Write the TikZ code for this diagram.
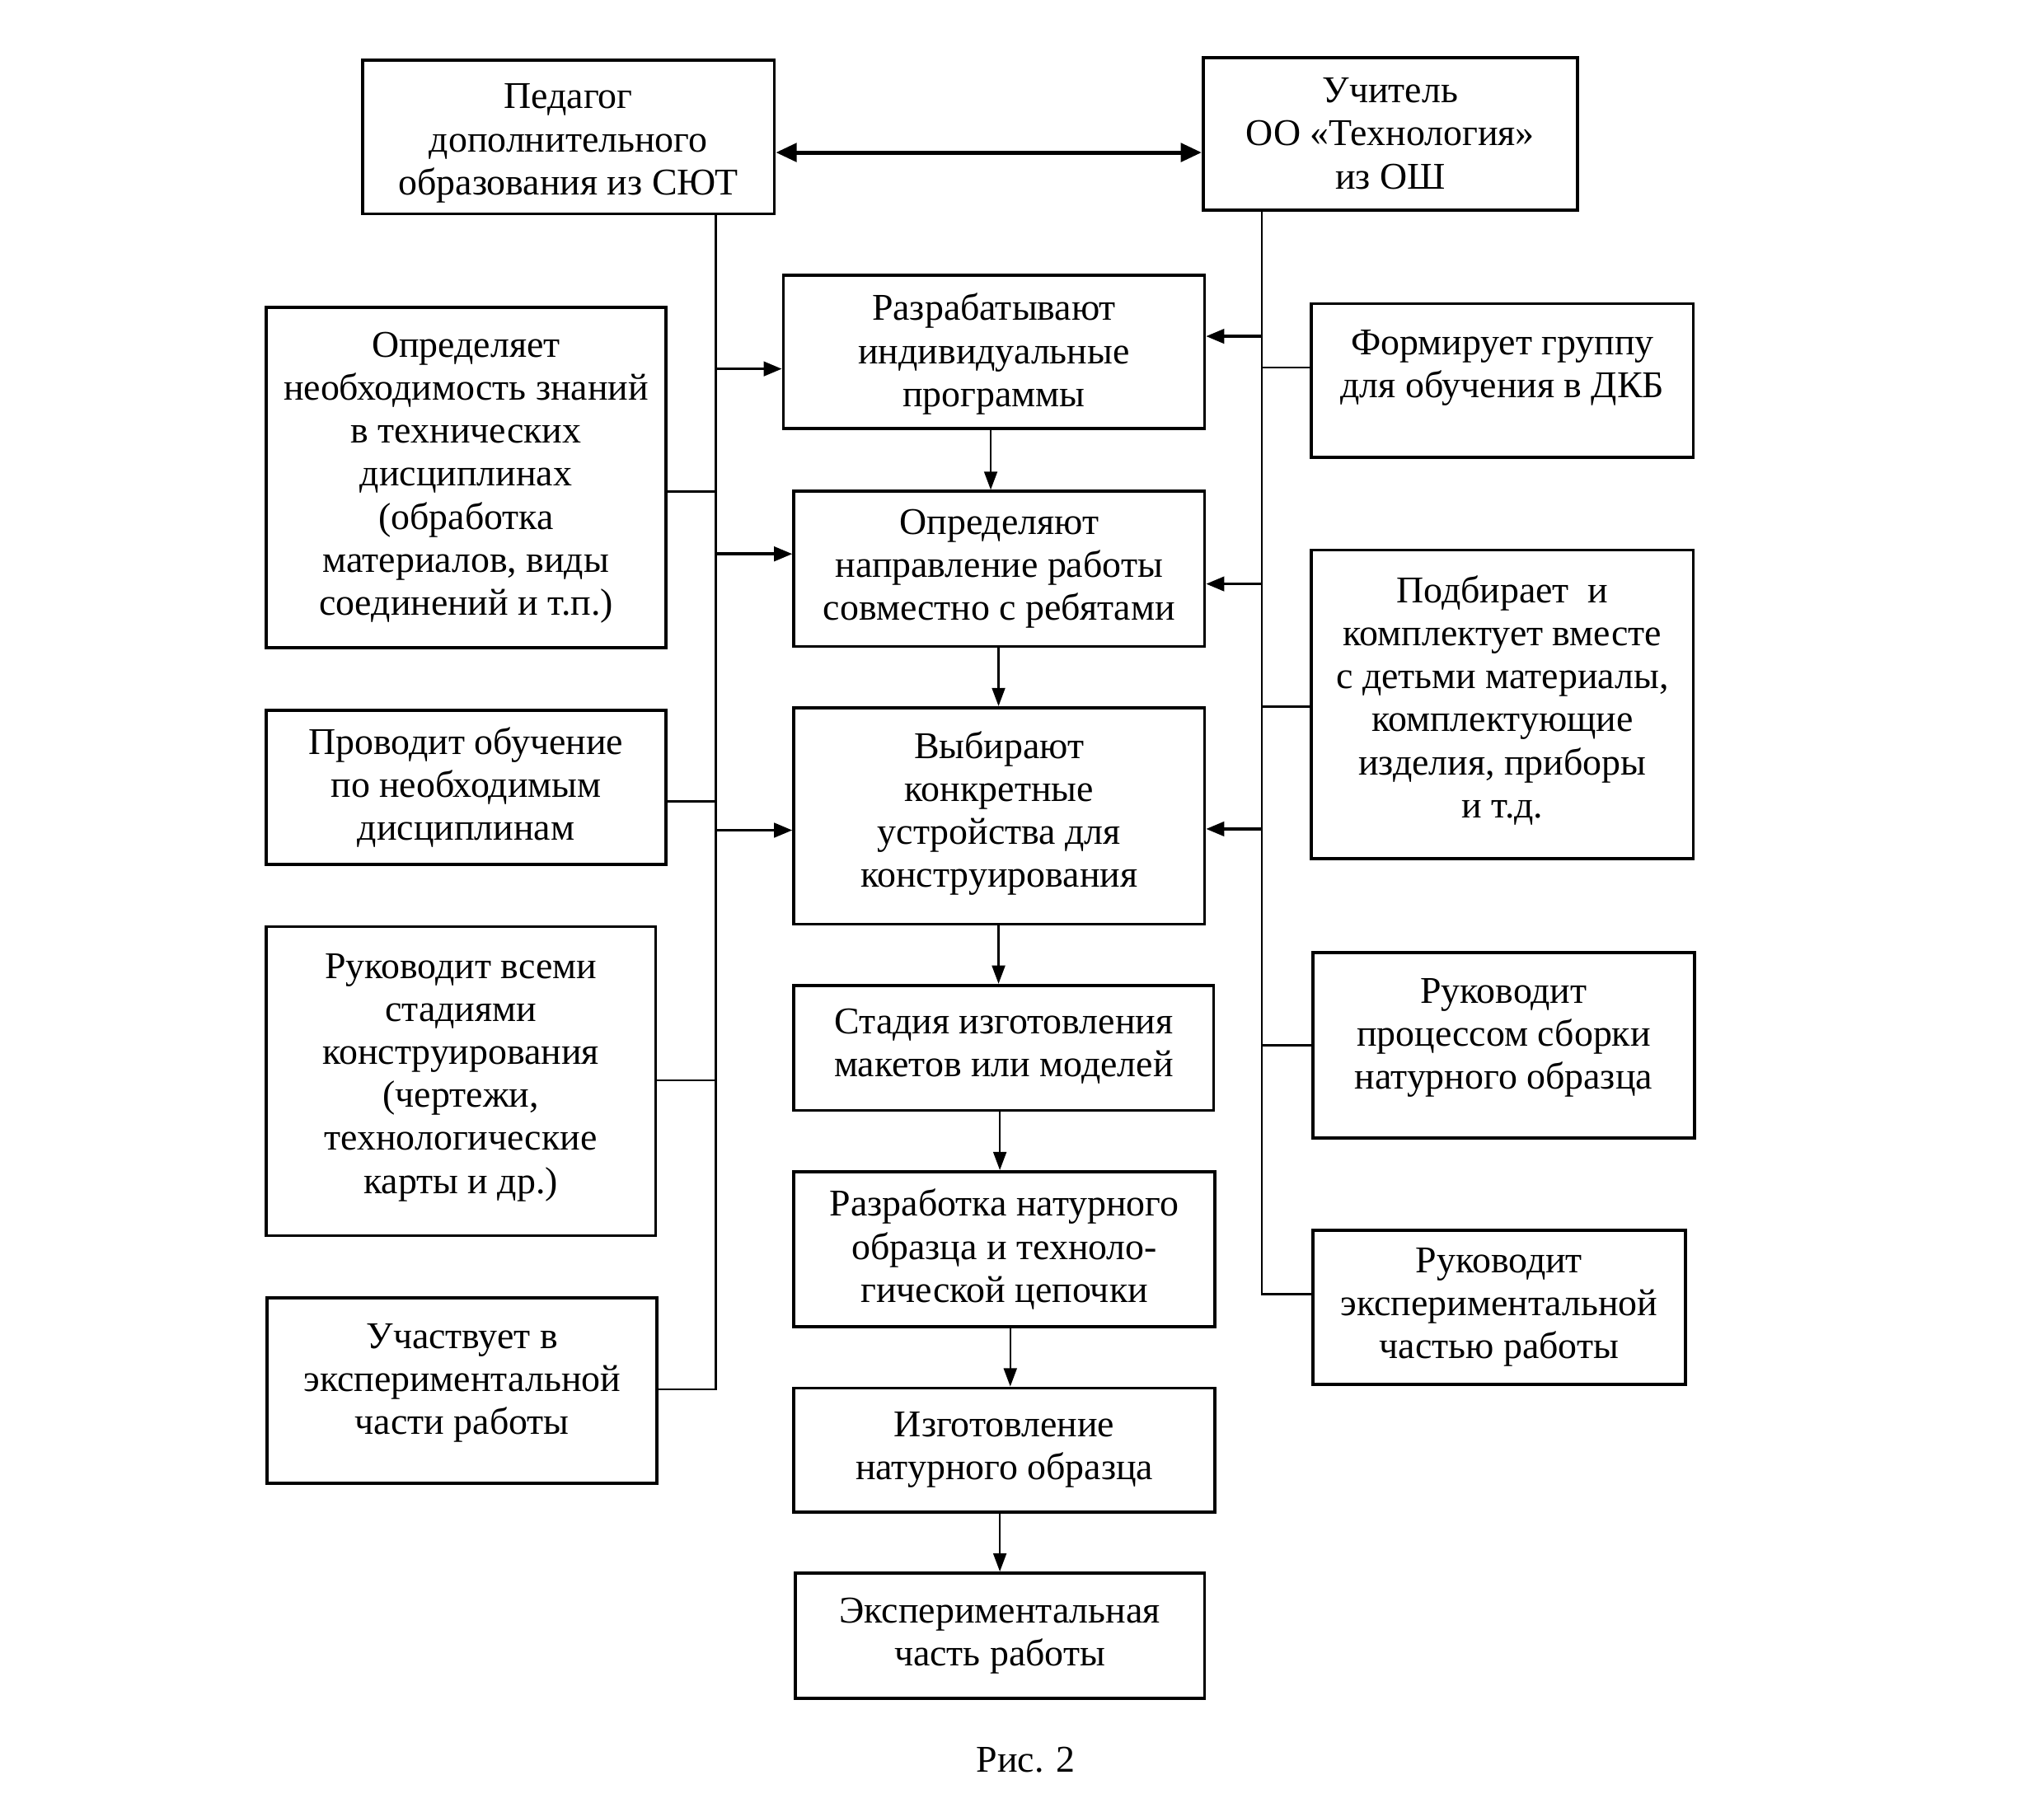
\documentclass[tikz,border=0pt]{standalone}
\usepackage{fontspec}
\setmainfont{Liberation Serif}
\usetikzlibrary{arrows.meta}
\newcommand\bx[6]{\node[box, minimum width={(#4-#2)*0.5pt}, minimum height={(#5-#3)*0.5pt}] (#1) at ({(#2+#4)/2},{(#3+#5)/2}) {#6};}
\newcommand\updep[1]{\rule[-#1pt]{0pt}{0pt}}
\newcommand\dnstrut[1]{\rule{0pt}{#1pt}}
\begin{document}
\begin{tikzpicture}[x=0.5pt,y=-0.5pt,
  box/.style={draw, line width=1.2pt, inner sep=0pt, align=center,
    font=\fontsize{14.5}{16.5}\selectfont},
  conn/.style={line width=0.8pt},
  arr/.style={line width=1.1pt, -{Triangle[length=7pt,width=5.5pt]}},
  darr/.style={line width=1.6pt, {Triangle[length=8pt,width=7pt]}-{Triangle[length=8pt,width=7pt]}},
  varr/.style={line width=0.8pt, -{Triangle[length=7pt,width=5pt]}}]
\useasboundingbox (0,0) rectangle (1568,1383);
% top boxes
\bx{ped}{278}{46}{594}{164}{\dnstrut{14.5}Педагог\\дополнительного\\образования из СЮТ}
\bx{uch}{923}{44}{1210}{161}{Учитель\\ОО «Технология»\\из ОШ}
% centre column
\bx{c1}{601}{211}{924}{329}{\dnstrut{12}Разрабатывают\\индивидуальные\\программы}
\bx{c2}{609}{377}{924}{496}{Определяют\\направление работы\\совместно с ребятами}
\bx{c3}{609}{543}{924}{709}{Выбирают\\конкретные\\устройства для\\конструирования\updep{5}}
\bx{c4}{609}{756}{931}{852}{Стадия изготовления\\макетов или моделей\updep{4}}
\bx{c5}{609}{899}{932}{1018}{Разработка натурного\\образца и техноло-\\гической цепочки}
\bx{c6}{609}{1065}{932}{1160}{Изготовление\\натурного образца}
\bx{c7}{610}{1207}{924}{1303}{Экспериментальная\\часть работы}
% left column
\bx{l1}{204}{236}{511}{497}{Определяет\\необходимость знаний\\в технических\\дисциплинах\\(обработка\\материалов, виды\\соединений и т.п.)}
\bx{l2}{204}{545}{511}{663}{Проводит обучение\\по необходимым\\дисциплинам}
\bx{l3}{204}{711}{503}{948}{Руководит всеми\\стадиями\\конструирования\\(чертежи,\\технологические\\карты и др.)\updep{6}}
\bx{l4}{205}{996}{504}{1138}{Участвует в\\экспериментальной\\части работы\updep{9}}
% right column
\bx{r1}{1006}{233}{1299}{351}{Формирует группу\\для обучения в ДКБ\updep{13}}
\bx{r2}{1006}{422}{1299}{659}{Подбирает~~и\\комплектует вместе\\с детьми материалы,\\комплектующие\\изделия, приборы\\и т.д.\updep{6}}
\bx{r3}{1007}{731}{1300}{873}{Руководит\\процессом сборки\\натурного образца\updep{9}}
\bx{r4}{1007}{944}{1293}{1062}{Руководит\\экспериментальной\\частью работы}
% caption
\node[font=\fontsize{14.5}{16.5}\selectfont] (cap) at (787,1350) {Рис. 2};
% buses
\coordinate (lbus) at (549,0);
\coordinate (rbus) at (968,0);
% double arrow
\draw[darr] (ped.east |- 0,117) -- (uch.west |- 0,117);
% left bus
\draw[conn] (ped.south -| lbus) -- (lbus |- 0,1066) -- (l4.east |- 0,1066);
\draw[conn] (l1.east |- 0,377) -- (lbus |- 0,377);
\draw[conn] (l2.east |- 0,615) -- (lbus |- 0,615);
\draw[conn] (l3.east |- 0,829) -- (lbus |- 0,829);
\draw[arr] (lbus |- 0,283) -- (c1.west |- 0,283);
\draw[arr] (lbus |- 0,425) -- (c2.west |- 0,425);
\draw[arr] (lbus |- 0,637) -- (c3.west |- 0,637);
% right bus
\draw[conn] (uch.south -| rbus) -- (rbus |- 0,993) -- (r4.west |- 0,993);
\draw[conn] (r1.west |- 0,282) -- (rbus |- 0,282);
\draw[conn] (r2.west |- 0,542) -- (rbus |- 0,542);
\draw[conn] (r3.west |- 0,802) -- (rbus |- 0,802);
\draw[arr] (rbus |- 0,258) -- (c1.east |- 0,258);
\draw[arr] (rbus |- 0,448) -- (c2.east |- 0,448);
\draw[arr] (rbus |- 0,636) -- (c3.east |- 0,636);
% centre chain
\draw[varr] (c1.south -| 760,0) -- (c2.north -| 760,0);
\draw[varr] (c2.south -| 766,0) -- (c3.north -| 766,0);
\draw[varr] (c3.south -| 766,0) -- (c4.north -| 766,0);
\draw[varr] (c4.south -| 767,0) -- (c5.north -| 767,0);
\draw[varr] (c5.south -| 775,0) -- (c6.north -| 775,0);
\draw[varr] (c6.south -| 767,0) -- (c7.north -| 767,0);
\end{tikzpicture}
\end{document}
